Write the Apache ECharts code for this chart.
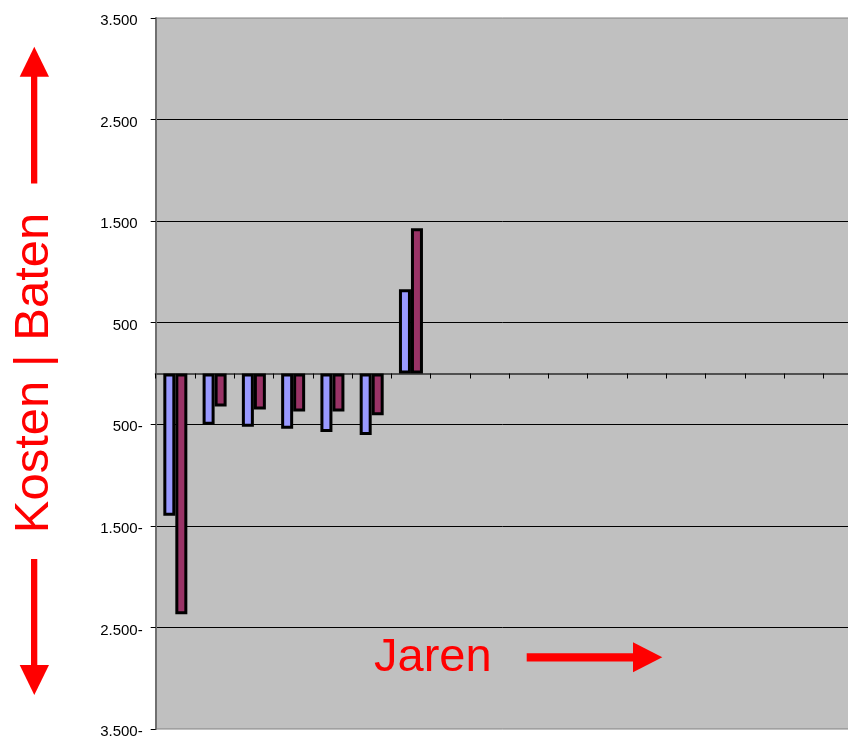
<!DOCTYPE html>
<html>
<head>
<meta charset="utf-8">
<script src="https://cdn.jsdelivr.net/npm/echarts@6/dist/echarts.min.js"></script>
<style>
  html, body { margin: 0; padding: 0; background: #ffffff; }
  #chart { width: 848px; height: 738px; }
</style>
</head>
<body>
<div id="chart"></div>
<script>
// Years on the horizontal axis (labels are not shown)
var years = ['1', '2', '3', '4', '5', '6', '7', '8', '9', '10',
             '11', '12', '13', '14', '15', '16', '17', '18', '19', '20'];

// Costs / benefits per year; negative values are costs
var reeksBlauw = [-1400, -505, -525, -545, -575, -605, 830];
var reeksPaars = [-2370, -325, -355, -375, -375, -410, 1430];

// Value axis range and step
var yMin = -3500;
var yMax = 3500;
var yStep = 1000;

// Dutch number format: dot as thousands separator, minus sign trailing
function nlNumber(v) {
  var s = String(Math.round(Math.abs(v)));
  return s.replace(/\B(?=(\d{3})+(?!\d))/g, '.');
}

var chart = echarts.init(document.getElementById('chart'), null, { renderer: 'canvas' });

var red = '#ff0000';
var fontFam = '"Liberation Sans", Arial, sans-serif';

chart.setOption({
  animation: false,
  backgroundColor: '#ffffff',
  grid: {
    left: 155.7,
    top: 18,
    height: 711,
    width: 785.4,
    outerBoundsMode: 'none',
    containLabel: false,
    show: true,
    backgroundColor: '#c0c0c0',
    borderColor: '#808080',
    borderWidth: 1
  },
  xAxis: {
    type: 'category',
    data: years,
    boundaryGap: true,
    axisLine: { show: true, onZero: true, lineStyle: { color: '#505050', width: 2 } },
    axisTick: { show: true, interval: 0, length: 5, lineStyle: { color: '#000000', width: 1 } },
    axisLabel: { show: false },
    splitLine: { show: false }
  },
  yAxis: {
    type: 'value',
    min: yMin,
    max: yMax,
    interval: yStep,
    axisLine: { show: true, lineStyle: { color: '#707070', width: 2 } },
    axisTick: { show: true, length: 5, lineStyle: { color: '#000000', width: 1 } },
    axisLabel: {
      color: '#000000',
      fontSize: 15,
      fontFamily: fontFam,
      margin: 13,
      padding: [6, 0, 0, 0],
      formatter: function (v) {
        if (v < 0) return nlNumber(v) + '-';
        return nlNumber(v) + '{h|-}';
      },
      rich: {
        h: { color: 'rgba(0,0,0,0)', fontSize: 15, fontFamily: fontFam }
      }
    },
    splitLine: {
      show: true,
      showMinLine: false,
      showMaxLine: false,
      lineStyle: { color: '#000000', width: 1 }
    }
  },
  series: [
    {
      name: 'Kosten',
      type: 'bar',
      data: reeksBlauw,
      barWidth: 12,
      barGap: '0%',
      itemStyle: { color: '#9999ff', borderColor: '#000000', borderWidth: 3 }
    },
    {
      name: 'Baten',
      type: 'bar',
      data: reeksPaars,
      barWidth: 12,
      barGap: '0%',
      itemStyle: { color: '#993366', borderColor: '#000000', borderWidth: 3 }
    }
  ],
  graphic: [
    // vertical axis caption with arrows up and down
    {
      type: 'text', x: 34.5, y: 373, rotation: Math.PI / 2, z: 100,
      style: { text: 'Kosten | Baten', fill: red, font: '49px ' + fontFam, align: 'center', verticalAlign: 'middle' }
    },
    { type: 'rect', z: 100, shape: { x: 31, y: 76, width: 6.3, height: 107.5 }, style: { fill: red } },
    { type: 'polygon', z: 100, shape: { points: [[34.3, 46.7], [49, 76.7], [19.7, 76.7]] }, style: { fill: red } },
    { type: 'rect', z: 100, shape: { x: 31, y: 559, width: 6.3, height: 107 }, style: { fill: red } },
    { type: 'polygon', z: 100, shape: { points: [[19.7, 665], [49, 665], [34.3, 695]] }, style: { fill: red } },
    // horizontal caption with arrow to the right
    {
      type: 'text', x: 374, y: 658, z: 100,
      style: { text: 'Jaren', fill: red, font: '47px ' + fontFam, align: 'left', verticalAlign: 'middle' }
    },
    { type: 'rect', z: 100, shape: { x: 526.7, y: 653.3, width: 107, height: 8.2 }, style: { fill: red } },
    { type: 'polygon', z: 100, shape: { points: [[633, 642.3], [633, 672.3], [662.3, 657.3]] }, style: { fill: red } }
  ]
});
</script>
</body>
</html>
